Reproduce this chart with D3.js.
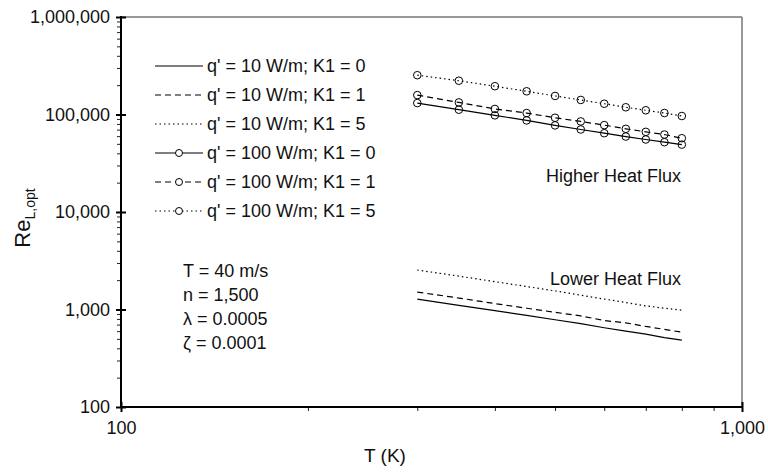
<!DOCTYPE html>
<html>
<head>
<meta charset="utf-8">
<script src="https://cdn.jsdelivr.net/npm/d3@7"></script>
<style>
  body { margin: 0; background: #fff; }
  svg { display: block; font-family: "Liberation Sans", Arial, sans-serif; }
  .axis text { font-size: 18px; fill: #111; }
  .axis path { display: none; }
  .lbl { font-size: 18px; fill: #111; }
</style>
</head>
<body>
<div class="chart"></div>
<script>
// temperatures (K)
var temps = [300, 350, 400, 450, 500, 550, 600, 650, 700, 750, 800];

// higher heat flux, q' = 100 W/m
var highK0 = [131000, 112000, 98000, 87000, 77300, 70200, 64300, 59400, 55400, 52000, 49100];
var highK1 = [158000, 133000, 114000, 103500, 92600, 84900, 77800, 71300, 66400, 62300, 57100];
var highK5 = [253000, 222000, 195000, 173000, 155000, 141000, 129000, 118600, 110500, 103600, 96500];

// lower heat flux, q' = 10 W/m
var lowK0 = [1275, 1100, 975, 870, 785, 715, 650, 600, 560, 515, 485];
var lowK1 = [1510, 1310, 1150, 1030, 935, 860, 770, 730, 670, 625, 585];
var lowK5 = [2540, 2200, 1930, 1720, 1550, 1400, 1280, 1180, 1090, 1030, 985];

var legendLabels = ["q' = 10 W/m; K1 = 0", "q' = 10 W/m; K1 = 1", "q' = 10 W/m; K1 = 5",
                    "q' = 100 W/m; K1 = 0", "q' = 100 W/m; K1 = 1", "q' = 100 W/m; K1 = 5"];
var paramLines = ["T = 40 m/s", "n = 1,500", "\u03bb = 0.0005", "\u03b6  = 0.0001"];

var xTicks = [100, 1000];
var yTicks = [100, 1000, 10000, 100000, 1000000];

var dashes = [null, "6,4", "1.5,3"];

var series = [
  {name: legendLabels[0], values: lowK0, dash: dashes[0], marker: false},
  {name: legendLabels[1], values: lowK1, dash: dashes[1], marker: false},
  {name: legendLabels[2], values: lowK5, dash: dashes[2], marker: false},
  {name: legendLabels[3], values: highK0, dash: dashes[0], marker: true},
  {name: legendLabels[4], values: highK1, dash: dashes[1], marker: true},
  {name: legendLabels[5], values: highK5, dash: dashes[2], marker: true}
];

var width = 768, height = 472;
var pLeft = 121, pRight = 742, pTop = 17, pBottom = 407;

var svg = d3.select(".chart").append("svg")
    .attr("width", width)
    .attr("height", height);

var x = d3.scaleLog().domain([100, 1000]).range([pLeft, pRight]);
var y = d3.scaleLog().domain([100, 1000000]).range([pBottom, pTop]);

// minor tick values
var xMinor = [];
for (var i = 2; i <= 9; i++) xMinor.push(i * 100);
var yMinor = [];
[100, 1000, 10000, 100000].forEach(function(d) {
  for (var i = 2; i <= 9; i++) yMinor.push(i * d);
});

// frame top/right
svg.append("line").attr("x1", pLeft).attr("x2", pRight).attr("y1", pTop).attr("y2", pTop)
    .attr("stroke", "#777").attr("stroke-width", 1.5);
svg.append("line").attr("x1", pRight).attr("x2", pRight).attr("y1", pTop).attr("y2", pBottom)
    .attr("stroke", "#777").attr("stroke-width", 1.5);

// x axis
svg.append("g").attr("class", "axis")
    .attr("transform", "translate(0," + pBottom + ")")
    .call(d3.axisBottom(x).tickValues(xMinor).tickSize(4).tickFormat(""))
    .selectAll("line").attr("stroke", "#222");
var gx = svg.append("g").attr("class", "axis")
    .attr("transform", "translate(0," + pBottom + ")")
    .call(d3.axisBottom(x).tickValues(xTicks).tickSize(5).tickPadding(9).tickFormat(d3.format(",")));
gx.selectAll("line").attr("y1", -5).attr("stroke", "#000").attr("stroke-width", 2);

// y axis
svg.append("g").attr("class", "axis")
    .attr("transform", "translate(" + pLeft + ",0)")
    .call(d3.axisLeft(y).tickValues(yMinor).tickSize(4).tickFormat(""))
    .selectAll("line").attr("stroke", "#222");
var gy = svg.append("g").attr("class", "axis")
    .attr("transform", "translate(" + pLeft + ",0)")
    .call(d3.axisLeft(y).tickValues(yTicks).tickSize(5).tickPadding(6).tickFormat(d3.format(",")));
gy.selectAll("line").attr("x1", 5).attr("stroke", "#000").attr("stroke-width", 2);

// axis lines
svg.append("line").attr("x1", pLeft).attr("x2", pLeft).attr("y1", pTop - 1).attr("y2", pBottom + 1)
    .attr("stroke", "#000").attr("stroke-width", 2);
svg.append("line").attr("x1", pLeft - 1).attr("x2", pRight).attr("y1", pBottom).attr("y2", pBottom)
    .attr("stroke", "#000").attr("stroke-width", 2);

// series
var line = d3.line()
    .x(function(d) { return x(d[0]); })
    .y(function(d) { return y(d[1]); });

series.forEach(function(s) {
  var pts = temps.map(function(t, i) { return [t, s.values[i]]; });
  svg.append("path")
      .datum(pts)
      .attr("d", line)
      .attr("fill", "none")
      .attr("stroke", "#000")
      .attr("stroke-width", 1.2)
      .attr("stroke-dasharray", s.dash);
  if (s.marker) {
    svg.selectAll(null).data(pts).enter().append("circle")
        .attr("cx", function(d) { return x(d[0]); })
        .attr("cy", function(d) { return y(d[1]); })
        .attr("r", 3.8)
        .attr("fill", "none")
        .attr("stroke", "#000")
        .attr("stroke-width", 1);
  }
});

// legend
var legend = svg.selectAll(".leg")
    .data(series)
    .enter().append("g")
    .attr("class", "leg")
    .attr("transform", function(d, i) { return "translate(155," + (66 + i * 29) + ")"; });

legend.append("line")
    .attr("x1", 0).attr("x2", 48)
    .attr("stroke", "#000")
    .attr("stroke-width", 1.2)
    .attr("stroke-dasharray", function(d) { return d.dash; });
legend.filter(function(d) { return d.marker; })
    .append("circle")
    .attr("cx", 24).attr("r", 3.5)
    .attr("fill", "#fff").attr("stroke", "#000");
legend.append("text")
    .attr("class", "lbl")
    .attr("x", 52).attr("dy", "0.35em")
    .text(function(d) { return d.name; });

// annotations
svg.append("text").attr("class", "lbl")
    .attr("x", 681).attr("y", 182).attr("text-anchor", "end")
    .text("Higher Heat Flux");
svg.append("text").attr("class", "lbl")
    .attr("x", 681).attr("y", 285).attr("text-anchor", "end")
    .text("Lower Heat Flux");

svg.selectAll(".param")
    .data(paramLines)
    .enter().append("text")
    .attr("class", "lbl param")
    .attr("x", 183)
    .attr("y", function(d, i) { return 277 + i * 24; })
    .text(function(d) { return d; });

// axis titles
svg.append("text")
    .attr("x", 385).attr("y", 462)
    .attr("text-anchor", "middle")
    .style("font-size", "19px").style("fill", "#111")
    .text("T (K)");

var yt = svg.append("text")
    .attr("transform", "translate(30,218) rotate(-90)")
    .attr("text-anchor", "middle")
    .style("font-size", "22px").style("fill", "#111");
yt.append("tspan").text("Re");
yt.append("tspan").attr("dy", 5).style("font-size", "14px").text("L,opt");
</script>
</body>
</html>
